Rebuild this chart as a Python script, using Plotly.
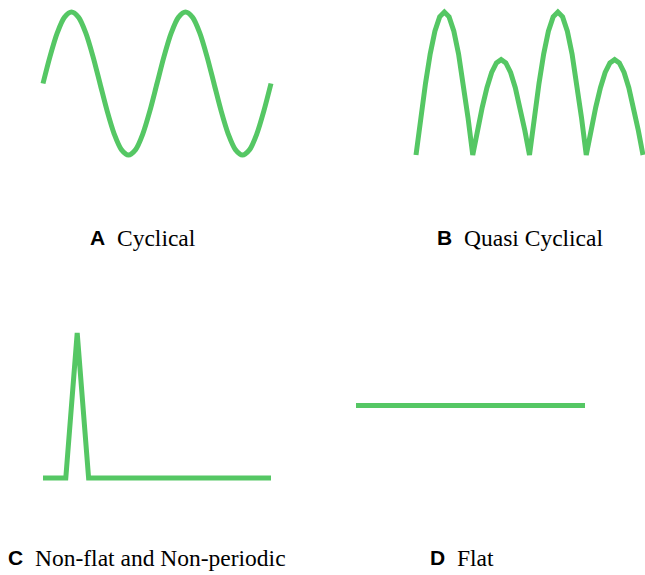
import plotly.graph_objects as go

W, H = 645, 575
GREEN = "#55C764"

# ---- data ----
cyc_x = [0, 0.0625, 0.125, 0.1875, 0.25, 0.3125, 0.375, 0.4375, 0.5,
         0.5625, 0.625, 0.6875, 0.75, 0.8125, 0.875, 0.9375, 1.0,
         1.0625, 1.125, 1.1875, 1.25, 1.3125, 1.375, 1.4375, 1.5,
         1.5625, 1.625, 1.6875, 1.75, 1.8125, 1.875, 1.9375, 2.0]
cyc_y = [0, 0.383, 0.707, 0.924, 1, 0.924, 0.707, 0.383, 0,
         -0.383, -0.707, -0.924, -1, -0.924, -0.707, -0.383, 0,
         0.383, 0.707, 0.924, 1, 0.924, 0.707, 0.383, 0,
         -0.383, -0.707, -0.924, -1, -0.924, -0.707, -0.383, 0]

quasi_x = [0, 0.083, 0.167, 0.25, 0.333, 0.417, 0.5, 0.583, 0.667, 0.75, 0.833, 0.917, 1.0,
           1.083, 1.167, 1.25, 1.333, 1.417, 1.5, 1.583, 1.667, 1.75, 1.833, 1.917, 2.0,
           2.083, 2.167, 2.25, 2.333, 2.417, 2.5, 2.583, 2.667, 2.75, 2.833, 2.917, 3.0,
           3.083, 3.167, 3.25, 3.333, 3.417, 3.5, 3.583, 3.667, 3.75, 3.833, 3.917, 4.0]
quasi_y = [0, 0.259, 0.5, 0.707, 0.866, 0.966, 1.0, 0.966, 0.866, 0.707, 0.5, 0.259, 0,
           0.173, 0.333, 0.471, 0.577, 0.644, 0.667, 0.644, 0.577, 0.471, 0.333, 0.173, 0,
           0.259, 0.5, 0.707, 0.866, 0.966, 1.0, 0.966, 0.866, 0.707, 0.5, 0.259, 0,
           0.173, 0.333, 0.471, 0.577, 0.644, 0.667, 0.644, 0.577, 0.471, 0.333, 0.173, 0]

spike_x = [0, 2, 3, 4, 20]
spike_y = [0, 0, 1, 0, 0]

flat_x = [0, 20]
flat_y = [0, 0]

labels = ["A", "B", "C", "D"]
titles = ["Cyclical", "Quasi Cyclical", "Non-flat and Non-periodic", "Flat"]

# ---- layout helpers ----
def place(px0, px1, py0, py1, xr, yr, pad=6):
    sx = (xr[1] - xr[0]) / (px1 - px0)
    sy = (yr[1] - yr[0]) / (py1 - py0)
    dx = [max(0, (px0 - pad) / W), min(1, (px1 + pad) / W)]
    rx = [xr[0] - (px0 - dx[0] * W) * sx, xr[1] + (dx[1] * W - px1) * sx]
    dy = [max(0, 1 - (py1 + pad) / H), min(1, 1 - (py0 - pad) / H)]
    ry = [yr[0] - ((1 - dy[0]) * H - py1) * sy, yr[1] + (py0 - (1 - dy[1]) * H) * sy]
    return dx, rx, dy, ry

panels = [
    (cyc_x, cyc_y, "spline", place(43, 271, 12, 155, [0, 2], [-1, 1])),
    (quasi_x, quasi_y, "linear", place(416, 643, 12, 155, [0, 4], [0, 1])),
    (spike_x, spike_y, "linear", place(43, 271, 333, 478, [0, 20], [0, 1])),
    (flat_x, flat_y, "linear", place(356, 585, 333, 478, [0, 20], [-1, 1])),
]

fig = go.Figure()
layout = dict(
    width=W, height=H, margin=dict(l=0, r=0, t=0, b=0),
    paper_bgcolor="white", plot_bgcolor="rgba(0,0,0,0)", showlegend=False,
)
for i, (xs, ys, shape, (dx, rx, dy, ry)) in enumerate(panels):
    n = "" if i == 0 else str(i + 1)
    fig.add_trace(go.Scatter(
        x=xs, y=ys, mode="lines",
        line=dict(color=GREEN, width=5, shape=shape, smoothing=0.8),
        xaxis="x" + n, yaxis="y" + n, hoverinfo="skip",
    ))
    ax = dict(visible=False, showgrid=False, zeroline=False, fixedrange=True)
    layout["xaxis" + n] = dict(domain=dx, range=rx, anchor="y" + n, **ax)
    layout["yaxis" + n] = dict(domain=dy, range=ry, anchor="x" + n, **ax)

fig.update_layout(**layout)

label_pos = [(88, 115, 237.5), (435, 462, 237.5), (6, 33, 557.5), (428, 455, 557.5)]
for lab, title, (lx, tx, ty) in zip(labels, titles, label_pos):
    fig.add_annotation(
        text="<b>" + lab + "</b>", x=lx / W, y=1 - ty / H, xref="paper", yref="paper",
        xanchor="left", yanchor="middle", showarrow=False,
        font=dict(family="Liberation Sans", size=21, color="black"),
    )
    fig.add_annotation(
        text=title, x=tx / W, y=1 - ty / H, xref="paper", yref="paper",
        xanchor="left", yanchor="middle", showarrow=False,
        font=dict(family="Liberation Serif", size=23.5, color="black"),
    )

fig.write_html(
    "out.html",
    config={"displayModeBar": False},
    post_script="document.body.style.margin='0';document.body.style.overflow='hidden';",
)
